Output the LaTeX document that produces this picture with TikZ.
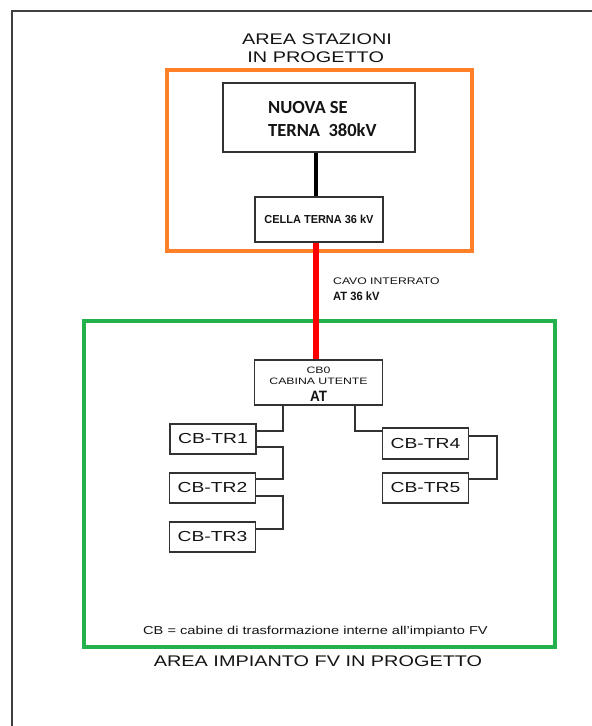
\documentclass[tikz,border=0pt]{standalone}
\usepackage{fontspec}
\setmainfont{Liberation Sans}
\newfontfamily\calfont{Carlito}
\usetikzlibrary{calc}
\definecolor{frameorange}{RGB}{255,128,39}
\definecolor{framegreen}{RGB}{34,177,76}
\definecolor{boxgray}{RGB}{50,50,50}
\definecolor{txtcol}{RGB}{20,20,20}
\newcommand\sxx[2]{\scalebox{#1}[1]{#2}}
\begin{document}
\begin{tikzpicture}[x=1pt,y=-1pt,
  boxstyle/.style={draw=boxgray,line width=1.2pt,rectangle,inner sep=0pt,text=txtcol},
  trbox/.style={boxstyle,minimum width=86pt,minimum height=30pt,font=\fontsize{14.5}{16}\selectfont},
  lbl/.style={inner sep=0pt,text=txtcol},
  wire/.style={draw=boxgray,line width=1.2pt},
  areaframe/.style={line width=4.5pt}]
\useasboundingbox (0,0) rectangle (592,726);
\fill[white] (0,0) rectangle (592,726);
% outer sheet frame (only top and left visible)
\draw[line width=2.3pt,draw=black!75] (592,11) -- (12,11) -- (12,726);
% titles
\node[lbl,anchor=base,font=\fontsize{15.4}{18}\selectfont] (t1) at (317,44.3) {\sxx{1.29}{AREA STAZIONI}};
\node[lbl,anchor=base,font=\fontsize{15.4}{18}\selectfont] (t2) at (315.7,62.7) {\sxx{1.29}{IN PROGETTO}};
% area frames
\draw[areaframe,draw=frameorange] (167,70) rectangle (472,251);
\draw[line width=4pt,draw=framegreen] (84,321) rectangle (555,647);
% station boxes
\node[boxstyle,minimum width=192pt,minimum height=69pt] (nuova) at (319,117.5) {};
\node[lbl,anchor=base west,font=\calfont\bfseries\fontsize{18.5}{20}\selectfont] (nuova1) at (268,113.3) {NUOVA SE};
\node[lbl,anchor=base west,font=\calfont\bfseries\fontsize{18.5}{20}\selectfont] (nuova2) at (268,136.7) {TERNA\ \ 380kV};
\node[boxstyle,minimum width=128pt,minimum height=45pt,font=\bfseries\fontsize{11.6}{13}\selectfont] (cella) at (319,219.5) {\sxx{0.945}{CELLA TERNA 36 kV}};
\coordinate (trunk) at (315.8,0);
\draw[line width=4.5pt,black] (nuova.south -| trunk) -- (cella.north -| trunk);
% user cabin
\node[boxstyle,minimum width=128pt,minimum height=45pt] (cb0) at (318.5,382.5) {};
\node[lbl,anchor=base,font=\fontsize{9.3}{11}\selectfont] (cb0a) at (318.5,373.3) {\sxx{1.32}{CB0}};
\node[lbl,anchor=base,font=\fontsize{9.3}{11}\selectfont] (cb0b) at (318.5,384.3) {\sxx{1.32}{CABINA UTENTE}};
\node[lbl,anchor=base,font=\bfseries\fontsize{15}{17}\selectfont] (cb0c) at (318.5,401.7) {\sxx{0.9}{AT}};
% cable
\draw[line width=6pt,red] (cella.south -| trunk) -- (cb0.north -| trunk);
\node[lbl,anchor=base west,font=\fontsize{9.6}{11}\selectfont] (cavo1) at (333,284) {\sxx{1.27}{CAVO INTERRATO}};
\node[lbl,anchor=base west,font=\bfseries\fontsize{12}{14}\selectfont] (cavo2) at (333,300) {\sxx{0.93}{AT 36 kV}};
% transformer cabins
\node[trbox] (tr1) at (213,439) {\sxx{1.33}{CB-TR1}};
\node[trbox] (tr2) at (212.5,488) {\sxx{1.33}{CB-TR2}};
\node[trbox] (tr3) at (212.5,537) {\sxx{1.33}{CB-TR3}};
\node[trbox,minimum height=31pt] (tr4) at (425.5,443.5) {\sxx{1.33}{CB-TR4}};
\node[trbox] (tr5) at (425.5,488) {\sxx{1.33}{CB-TR5}};
\coordinate (lbus) at (283,0);
\coordinate (rbus) at (355,0);
\coordinate (rret) at (497,0);
\draw[wire] (cb0.south -| lbus) |- ([yshift=8pt]tr1.east);
\draw[wire] ([yshift=-8pt]tr1.east) -- ([yshift=-8pt]tr1.east -| lbus) |- ([yshift=9pt]tr2.east);
\draw[wire] ([yshift=-8pt]tr2.east) -- ([yshift=-8pt]tr2.east -| lbus) |- ([yshift=8pt]tr3.east);
\draw[wire] (cb0.south -| rbus) |- ([yshift=12.5pt]tr4.west);
\draw[wire] ([yshift=7.5pt]tr4.east) -- ([yshift=7.5pt]tr4.east -| rret) |- ([yshift=9pt]tr5.east);
% notes
\node[lbl,anchor=base,font=\fontsize{11.5}{13}\selectfont] (note) at (315.5,634) {\sxx{1.27}{CB = cabine di trasformazione interne all\char39 impianto FV}};
\node[lbl,anchor=base,font=\fontsize{15.4}{18}\selectfont] (t3) at (318,666) {\sxx{1.29}{AREA IMPIANTO FV IN PROGETTO}};
\end{tikzpicture}
\end{document}
